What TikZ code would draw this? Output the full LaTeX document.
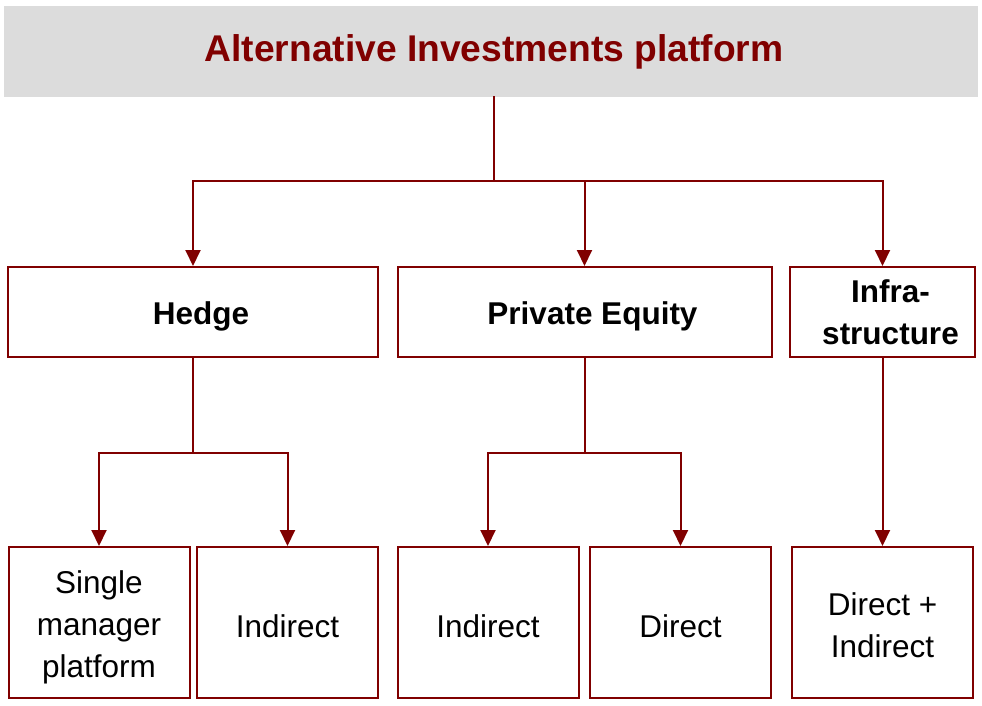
\documentclass[tikz,border=0pt]{standalone}
\usepackage{fontspec}
\setmainfont{Liberation Sans}
\usepackage{tikz}
\usetikzlibrary{%
  arrows.meta,%
  calc%
}
\definecolor{maroon}{HTML}{800000}
\definecolor{band}{HTML}{DCDCDC}
\newcommand{\topgap}[1]{\rule{0pt}{#1}}
\tikzset{>={Triangle[length=16pt,width=15pt]}}
\tikzset{
  box/.style={draw=maroon,line width=2pt,align=center,inner sep=0pt,
    execute at begin node={\rule{0pt}{31pt}},
    font=\fontsize{31.5}{42}\selectfont},
  bigbox/.style={box,minimum height=90pt,
    execute at begin node={\hspace*{16pt}},
    font=\fontsize{31.5}{42}\selectfont\bfseries},
  smallbox/.style={box,minimum height=151pt,minimum width=181pt},
  link/.style={draw=maroon,line width=2pt},
  arrow/.style={link,->}
}

\begin{document}
\begin{tikzpicture}[x=1pt,y=-1pt]
        \useasboundingbox (0,0) rectangle (982,706);
        \node[fill=band,minimum width=974pt,minimum height=91pt,inner sep=0pt,
        text=maroon,font=\fontsize{37.2}{44}\selectfont\bfseries,
        execute at begin node={\hspace*{6pt}}]
        (title) at (491,52) {Alternative Investments platform};
        % first level
        \node[bigbox,minimum width=370pt] (hedge) at (193,312) {Hedge};
        \node[bigbox,minimum width=374pt] (pe) at (584.5,312) {Private Equity};
        \node[bigbox,minimum width=185pt] (infra) at (882.5,312) {Infra-\\structure};
        % second level
        \node[smallbox] (single) at (99,622.5) {\topgap{33pt}Single\\manager\\platform};
        \node[smallbox] (hindirect) at (287.5,622.5) {Indirect};
        \node[smallbox] (peindirect) at (488,622.5) {Indirect};
        \node[smallbox] (pedirect) at (680.5,622.5) {Direct};
        \node[smallbox] (infdirect) at (882.5,622.5) {\topgap{29pt}Direct +\\Indirect};
        % connectors
        \coordinate (top) at (494,181);
        \draw[link] (494,96.5) -- (top);
        \draw[arrow] (top) -| (hedge.north);
        \draw[arrow] (top) -| (pe.north);
        \draw[arrow] (top) -| (infra.north);
        \draw[link] (hedge.south) -- ++(0,95) coordinate (hsplit);
        \draw[arrow] (hsplit) -| (single.north);
        \draw[arrow] (hsplit) -| (hindirect.north);
        \draw[link] (pe.south) -- ++(0,95) coordinate (psplit);
        \draw[arrow] (psplit) -| (peindirect.north);
        \draw[arrow] (psplit) -| (pedirect.north);
        \draw[arrow] (infra.south) -- (infdirect.north);
      \end{tikzpicture}
\end{document}
